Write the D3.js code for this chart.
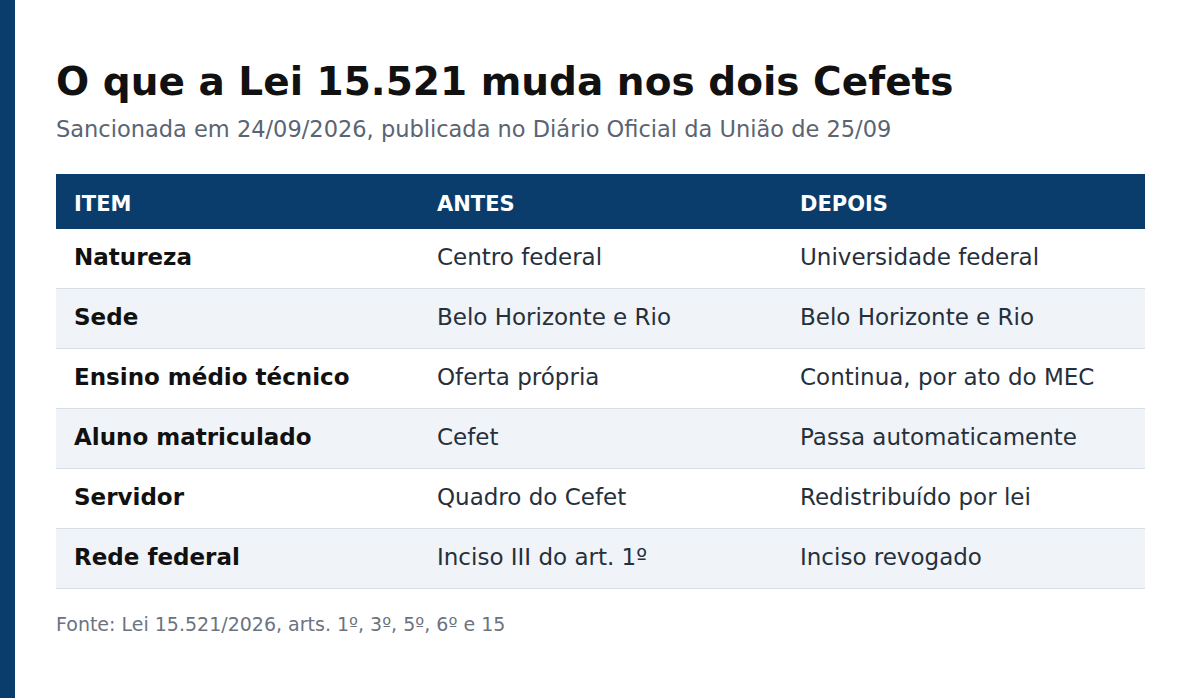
<!DOCTYPE html>
<html><head><meta charset="utf-8">
<script src="https://cdn.jsdelivr.net/npm/d3@7"></script>
<style>body{margin:0;background:#fff}svg{display:block;font-family:"DejaVu Sans",sans-serif}</style>
</head><body>
<script>
// table content
const columns = ['ITEM', 'ANTES', 'DEPOIS'];
const items = ['Natureza', 'Sede', 'Ensino médio técnico', 'Aluno matriculado', 'Servidor', 'Rede federal'];
const antes = ['Centro federal', 'Belo Horizonte e Rio', 'Oferta própria', 'Cefet', 'Quadro do Cefet', 'Inciso III do art. 1º'];
const depois = ['Universidade federal', 'Belo Horizonte e Rio', 'Continua, por ato do MEC', 'Passa automaticamente', 'Redistribuído por lei', 'Inciso revogado'];

const W = 1200, H = 698;
const svg = d3.select('body').append('svg').attr('width', W).attr('height', H);

svg.append('rect').attr('width', 15).attr('height', H).attr('fill', '#0a3d6b');

svg.append('text').attr('x', 56).attr('y', 95)
    .attr('font-size', 39).attr('font-weight', 'bold').attr('fill', '#111')
    .text('O que a Lei 15.521 muda nos dois Cefets');
svg.append('text').attr('x', 56).attr('y', 137)
    .attr('font-size', 22.5).attr('fill', '#5a6472')
    .text('Sancionada em 24/09/2026, publicada no Diário Oficial da União de 25/09');

const x = d3.scaleBand().domain(columns).range([56, 1145]);
const y = d3.scaleBand().domain(d3.range(items.length)).range([229, 589]);
const pad = 18;

svg.append('rect').attr('x', 56).attr('y', 174).attr('width', 1089).attr('height', 55).attr('fill', '#0a3d6b');
svg.selectAll('.head').data(columns).join('text')
    .attr('x', d => x(d) + pad).attr('y', 211)
    .attr('font-size', 21).attr('font-weight', 'bold').attr('fill', '#fff')
    .text(d => d);

const rows = svg.selectAll('.row').data(items).join('g')
    .attr('transform', (d, i) => `translate(0,${y(i)})`);
rows.append('rect').attr('x', 56).attr('width', 1089).attr('height', y.bandwidth())
    .attr('fill', (d, i) => i % 2 ? '#f0f4f8' : '#fff');
rows.append('line').attr('x1', 56).attr('x2', 1145)
    .attr('y1', y.bandwidth() - 0.5).attr('y2', y.bandwidth() - 0.5)
    .attr('stroke', '#d8dee5');
rows.append('text').attr('x', x('ITEM') + pad).attr('y', 36)
    .attr('font-size', 23).attr('font-weight', 'bold').attr('fill', '#111').text(d => d);
rows.append('text').attr('x', x('ANTES') + pad).attr('y', 36)
    .attr('font-size', 23).attr('fill', '#26303c').text((d, i) => antes[i]);
rows.append('text').attr('x', x('DEPOIS') + pad).attr('y', 36)
    .attr('font-size', 23).attr('fill', '#26303c').text((d, i) => depois[i]);

svg.append('text').attr('x', 56).attr('y', 631)
    .attr('font-size', 19).attr('fill', '#6b7380')
    .text('Fonte: Lei 15.521/2026, arts. 1º, 3º, 5º, 6º e 15');
</script>
</body></html>
